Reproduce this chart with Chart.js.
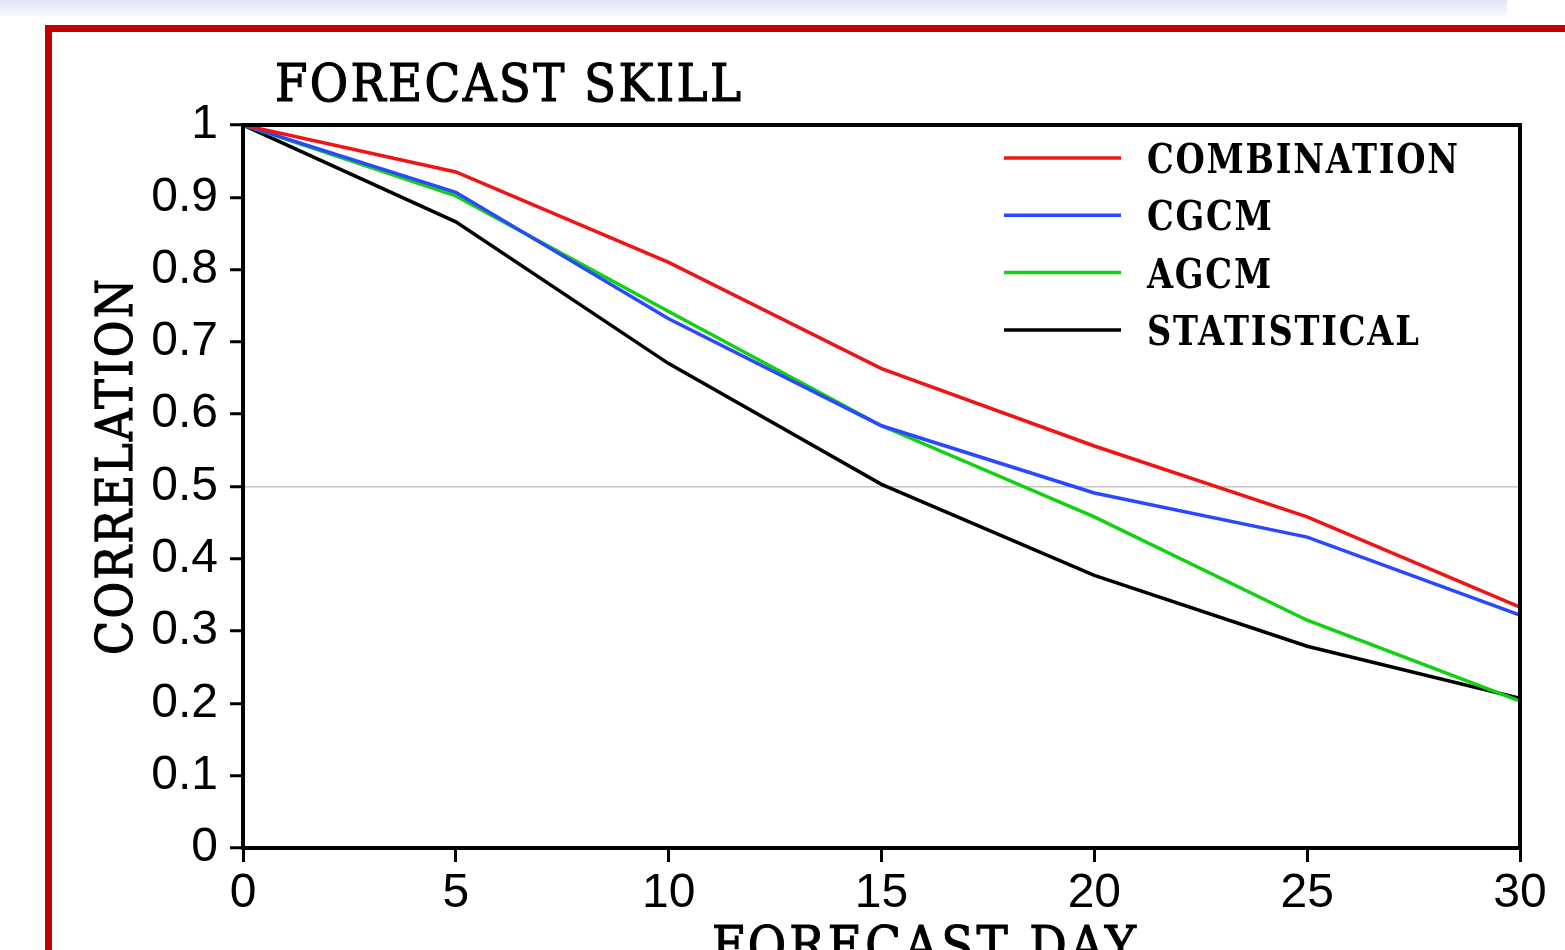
<!DOCTYPE html>
<html>
<head>
<meta charset="utf-8">
<title>Forecast skill</title>
<script src="https://cdn.jsdelivr.net/npm/chart.js@4.4.1/dist/chart.umd.min.js"></script>
<style>
  html, body { margin: 0; padding: 0; background: #fff; overflow: hidden; }
  .topbar {
    position: absolute; left: 0; top: 0; width: 1507px; height: 16px;
    background: linear-gradient(#e3e5f4, #f8f8fd);
  }
  .panel {
    position: absolute; left: 45px; top: 25px; width: 1600px; height: 1000px;
    border: 7px solid #c00000; box-sizing: border-box;
  }
  #skillChart { position: absolute; left: 0; top: 0; }
</style>
</head>
<body>
<div class="topbar"></div>
<div class="panel"></div>
<canvas id="skillChart" width="1565" height="1000"></canvas>
<script>
const days = [0, 5, 10, 15, 20, 25, 30];
const combination = [1, 0.935, 0.810, 0.663, 0.556, 0.458, 0.333];
const cgcm        = [1, 0.907, 0.732, 0.584, 0.491, 0.430, 0.322];
const agcm        = [1, 0.902, 0.742, 0.584, 0.458, 0.315, 0.203];
const statistical = [1, 0.866, 0.670, 0.503, 0.377, 0.279, 0.207];

const seriesNames  = ['COMBINATION', 'CGCM', 'AGCM', 'STATISTICAL'];
const seriesColors = ['#f01414', '#2a48ff', '#12d012', '#000000'];
const seriesValues = [combination, cgcm, agcm, statistical];

const titleText = 'FORECAST SKILL';
const xTitle = 'FORECAST DAY';
const yTitle = 'CORRELATION';

// plotter-style lettering: glyphs narrowed by sx, then spaced out so the
// string spans `width`; a light stroke thickens the strokes
function letterText(ctx, text, x, y, width, sx, stroke) {
  ctx.save();
  ctx.translate(x, y);
  ctx.scale(sx, 1);
  ctx.letterSpacing = '0px';
  const w = ctx.measureText(text).width;
  ctx.letterSpacing = ((width / sx - w) / (text.length - 1)) + 'px';
  ctx.fillText(text, 0, 0);
  if (stroke) {
    ctx.lineWidth = stroke;
    ctx.strokeStyle = ctx.fillStyle;
    ctx.strokeText(text, 0, 0);
  }
  ctx.restore();
}

const decorations = {
  id: 'decorations',
  afterDatasetsDraw(chart) {
    const { ctx, chartArea: a } = chart;
    ctx.save();

    // box round the plot
    ctx.strokeStyle = '#000';
    ctx.lineWidth = 4;
    ctx.strokeRect(a.left, a.top, a.right - a.left, a.bottom - a.top);

    ctx.fillStyle = '#000';
    ctx.textAlign = 'left';
    ctx.textBaseline = 'alphabetic';

    // title
    ctx.font = '52px "DejaVu Serif"';
    letterText(ctx, titleText, a.left + 32, a.top - 24, 466, 0.9, 1.2);

    // axis titles
    ctx.font = '51px "DejaVu Serif"';
    ctx.save();
    ctx.translate(a.left - 111, a.bottom - 193);
    ctx.rotate(-Math.PI / 2);
    letterText(ctx, yTitle, 0, 0, 376, 0.88, 1.2);
    ctx.restore();
    ctx.font = '52px "DejaVu Serif"';
    letterText(ctx, xTitle, a.left + 469, a.bottom + 115, 424, 0.9, 1.2);

    // legend: same letter pitch for every entry
    ctx.font = 'bold 41px "DejaVu Serif"';
    const sx = 0.82;
    ctx.letterSpacing = '0px';
    const first = seriesNames[0];
    const gap = (311 / sx - ctx.measureText(first).width) / (first.length - 1);
    chart.data.datasets.forEach((ds, i) => {
      const y = a.top + 33 + i * 57.3;
      ctx.strokeStyle = ds.borderColor;
      ctx.lineWidth = 3.5;
      ctx.beginPath();
      ctx.moveTo(a.left + 761, y);
      ctx.lineTo(a.left + 878, y);
      ctx.stroke();
      ctx.save();
      ctx.fillStyle = '#000';
      ctx.translate(a.left + 904, y + 15);
      ctx.scale(sx, 1);
      ctx.letterSpacing = gap + 'px';
      ctx.fillText(ds.label, 0, 0);
      ctx.restore();
    });

    ctx.restore();
  }
};

new Chart(document.getElementById('skillChart'), {
  type: 'line',
  data: {
    datasets: seriesNames.map((name, i) => ({
      label: name,
      data: days.map((d, j) => ({ x: d, y: seriesValues[i][j] })),
      borderColor: seriesColors[i],
      borderWidth: 3.5,
      pointRadius: 0,
      tension: 0,
      fill: false
    }))
  },
  options: {
    responsive: false,
    animation: false,
    layout: { padding: { left: 0, right: 45, top: 125, bottom: 0 } },
    plugins: {
      legend: { display: false },
      tooltip: { enabled: false }
    },
    scales: {
      x: {
        type: 'linear',
        min: 0,
        max: 30,
        afterFit: (s) => { s.height = 152; },
        ticks: {
          stepSize: 5,
          color: '#000',
          padding: 3,
          maxRotation: 0,
          font: { family: '"Liberation Sans", Arial, sans-serif', size: 48 }
        },
        grid: {
          drawOnChartArea: false,
          tickLength: 14,
          tickColor: '#000',
          tickWidth: 3
        },
        border: { display: true, color: '#000', width: 4 }
      },
      y: {
        min: 0,
        max: 1,
        afterFit: (s) => { s.width = 243; },
        ticks: {
          stepSize: 0.1,
          color: '#000',
          padding: 12,
          callback: (v) => String(Number(v.toFixed(1))),
          font: { family: '"Liberation Sans", Arial, sans-serif', size: 48 }
        },
        grid: {
          color: (c) => (c.tick && Math.abs(c.tick.value - 0.5) < 1e-6 ? '#c4c4c4' : 'rgba(0,0,0,0)'),
          lineWidth: 1.5,
          tickLength: 13,
          tickColor: '#000',
          tickWidth: 3
        },
        border: { display: true, color: '#000', width: 4 }
      }
    }
  },
  plugins: [decorations]
});
</script>
</body>
</html>
